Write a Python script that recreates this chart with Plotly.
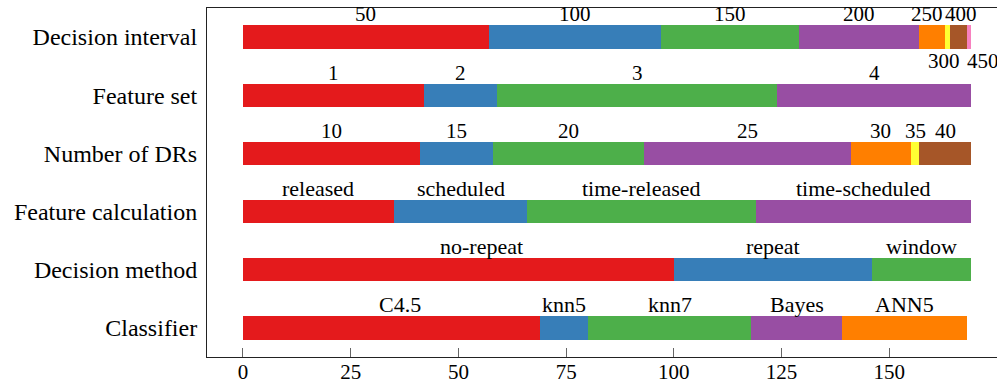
import plotly.graph_objects as go

# Rows of the stacked bar chart, top to bottom
rows = ["Decision interval", "Feature set", "Number of DRs", "Feature calculation",
        "Decision method", "Classifier"]

# Segment labels and sizes per row
decision_interval_labels = ["50", "100", "150", "200", "250", "300", "400", "450"]
decision_interval_values = [57, 40, 32, 28, 6, 1, 4, 1]

feature_set_labels = ["1", "2", "3", "4"]
feature_set_values = [42, 17, 65, 45]

num_drs_labels = ["10", "15", "20", "25", "30", "35", "40"]
num_drs_values = [41, 17, 35, 48, 14, 2, 12]

feature_calc_labels = ["released", "scheduled", "time-released", "time-scheduled"]
feature_calc_values = [35, 31, 53, 50]

decision_method_labels = ["no-repeat", "repeat", "window"]
decision_method_values = [100, 46, 23]

classifier_labels = ["C4.5", "knn5", "knn7", "Bayes", "ANN5"]
classifier_values = [69, 11, 38, 21, 29]

x_ticks = [0, 25, 50, 75, 100, 125, 150]

all_labels = [decision_interval_labels, feature_set_labels, num_drs_labels,
              feature_calc_labels, decision_method_labels, classifier_labels]
all_values = [decision_interval_values, feature_set_values, num_drs_values,
              feature_calc_values, decision_method_values, classifier_values]

# ColorBrewer Set1
palette = ["#e41a1c", "#377eb8", "#4daf4a", "#984ea3", "#ff7f00", "#ffff33",
           "#a65628", "#f781bf"]

FONT = "Liberation Serif"
NUM_FS = 21     # numeric labels
WORD_FS = 22    # word labels on the bars
ROW_FS = 24     # row names
BAR_W = 0.4

# label placement tweaks: (row, segment) -> (side, xshift px)
placement = {
    (0, 4): ("above", -5),
    (0, 5): ("below", -3),
    (0, 6): ("above", 3),
    (0, 7): ("below", 14),
    (4, 0): ("above", 23),
    (5, 0): ("above", 8),
}

fig = go.Figure()
n_seg = max(len(v) for v in all_values)
for k in range(n_seg):
    xs = [vals[k] if k < len(vals) else None for vals in all_values]
    fig.add_trace(go.Bar(
        y=rows, x=xs, orientation="h", width=BAR_W,
        marker=dict(color=palette[k], line=dict(width=0)),
        showlegend=False, hoverinfo="skip",
    ))

annotations = []
for i, (labs, vals) in enumerate(zip(all_labels, all_values)):
    start = 0
    for k, (lab, v) in enumerate(zip(labs, vals)):
        cx = start + v / 2
        side, dx = placement.get((i, k), ("above", 0))
        fs = NUM_FS if lab.replace(".", "").isdigit() else WORD_FS
        if side == "above":
            annotations.append(dict(x=cx, y=i - BAR_W / 2, xref="x", yref="y",
                                    text=lab, showarrow=False, yanchor="bottom",
                                    xanchor="center", xshift=dx, yshift=-3,
                                    font=dict(family=FONT, size=fs, color="black")))
        else:
            annotations.append(dict(x=cx, y=i + BAR_W / 2, xref="x", yref="y",
                                    text=lab, showarrow=False, yanchor="top",
                                    xanchor="center", xshift=dx, yshift=2,
                                    font=dict(family=FONT, size=fs, color="black")))
        start += v

fig.update_layout(
    barmode="stack",
    width=997, height=383,
    margin=dict(l=207, r=0, t=8, b=26),
    paper_bgcolor="white", plot_bgcolor="white",
    font=dict(family=FONT, size=NUM_FS, color="black"),
    annotations=annotations,
    bargap=0,
)
fig.update_xaxes(
    range=[-8.35, 175], tickvals=x_ticks, ticktext=[str(t) for t in x_ticks],
    ticks="inside", ticklen=9, tickcolor="#666666", tickwidth=1,
    showline=True, linecolor="#222222", linewidth=1, mirror=True,
    showgrid=False, zeroline=False, automargin=False,
    ticklabelstandoff=-4,
    tickfont=dict(family=FONT, size=NUM_FS, color="black"),
)
fig.update_yaxes(
    categoryorder="array", categoryarray=rows, autorange="reversed",
    showline=True, linecolor="#222222", linewidth=1, mirror=False,
    ticks="", showgrid=False, zeroline=False, automargin=False,
    ticklabelstandoff=4,
    tickfont=dict(family=FONT, size=ROW_FS, color="black"),
)

fig.write_html("out.html")
